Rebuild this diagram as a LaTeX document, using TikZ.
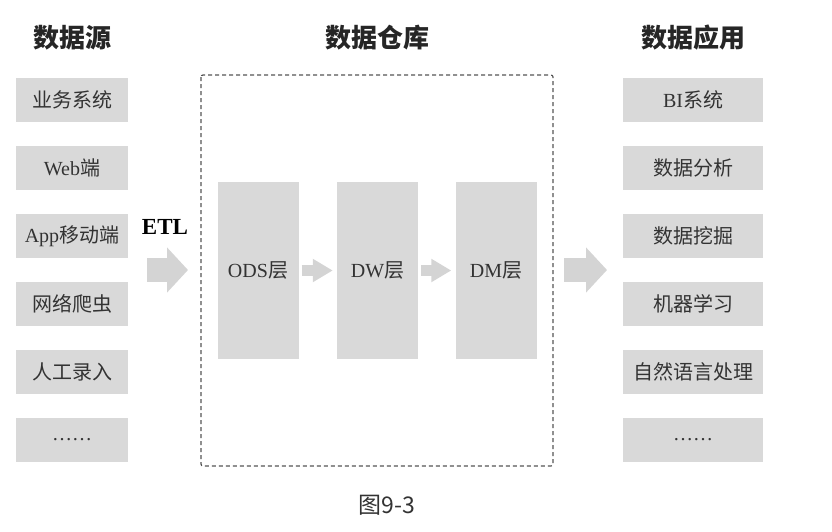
\documentclass[tikz,border=0pt]{standalone}
\usepackage{fontspec}
\setmainfont{Liberation Serif}
\newfontfamily\cjk{Noto Sans CJK SC}
\usetikzlibrary{arrows.meta}
\definecolor{boxgray}{HTML}{D9D9D9}
\definecolor{arrgray}{HTML}{D4D4D4}
\definecolor{txtgray}{HTML}{333333}
\definecolor{dashgray}{HTML}{555555}
\tikzset{
  srcbox/.style={fill=boxgray, draw=none, minimum width=112pt, minimum height=44pt, inner sep=0pt, text=txtgray, font=\fontsize{20}{20}\selectfont},
  appbox/.style={srcbox, minimum width=140pt},
  layerbox/.style={fill=boxgray, draw=none, minimum width=81pt, minimum height=177pt, inner sep=0pt, text=txtgray, font=\fontsize{20}{20}\selectfont},
  title/.style={font=\fontsize{26}{26}\selectfont\cjk\bfseries, text=black!85, inner sep=0pt},
  bigarrow/.style={draw=arrgray, line width=24pt, -{Triangle[length=21pt,width=44pt]}},
  smallarrow/.style={draw=arrgray, line width=11pt, -{Triangle[length=20pt,width=22pt]}, shorten <=3pt, shorten >=4pt},
  dwframe/.style={draw=dashgray, line width=1.2pt, dash pattern=on 4pt off 3pt, rounded corners=2pt}
}
\begin{document}
\begin{tikzpicture}[x=1pt,y=-1pt]
\useasboundingbox (0,0) rectangle (832,531);
% titles
\node[title] (t1) at (72,38) {数据源};
\node[title] (t2) at (377,38) {数据仓库};
\node[title] (t3) at (693,38) {数据应用};
% source boxes
\node[srcbox] (s1) at (72,100) {\cjk 业务系统};
\node[srcbox] (s2) at (72,168) {Web{\cjk 端}};
\node[srcbox] (s3) at (72,236) {App{\cjk 移动端}};
\node[srcbox] (s4) at (72,304) {\cjk 网络爬虫};
\node[srcbox] (s5) at (72,372) {\cjk 人工录入};
\node[srcbox] (s6) at (72,440) {……};
% application boxes
\node[appbox] (a1) at (693,100) {BI{\cjk 系统}};
\node[appbox] (a2) at (693,168) {\cjk 数据分析};
\node[appbox] (a3) at (693,236) {\cjk 数据挖掘};
\node[appbox] (a4) at (693,304) {\cjk 机器学习};
\node[appbox] (a5) at (693,372) {\cjk 自然语言处理};
\node[appbox] (a6) at (693,440) {……};
% warehouse frame
\draw[dwframe] (201,75) rectangle (553,466);
\node[layerbox] (ods) at (258,270.5) {ODS{\cjk 层}};
\node[layerbox] (dw) at (377.5,270.5) {DW{\cjk 层}};
\node[layerbox] (dm) at (496,270.5) {DM{\cjk 层}};
% ETL label
\node[font=\fontsize{23}{23}\selectfont\bfseries, inner sep=0pt] (etl) at (165,227) {ETL};
% arrows
\coordinate (la) at (147,270);
\coordinate (lb) at (188,270);
\coordinate (ra) at (564,270);
\coordinate (rb) at (607,270);
\draw[bigarrow] (la) -- (lb);
\draw[bigarrow] (ra) -- (rb);
\draw[smallarrow] (ods) -- (dw);
\draw[smallarrow] (dw) -- (dm);
% caption
\node[font=\fontsize{23}{23}\selectfont\cjk, text=txtgray, inner sep=0pt] (cap) at (387,505) {图9-3};
\end{tikzpicture}
\end{document}
